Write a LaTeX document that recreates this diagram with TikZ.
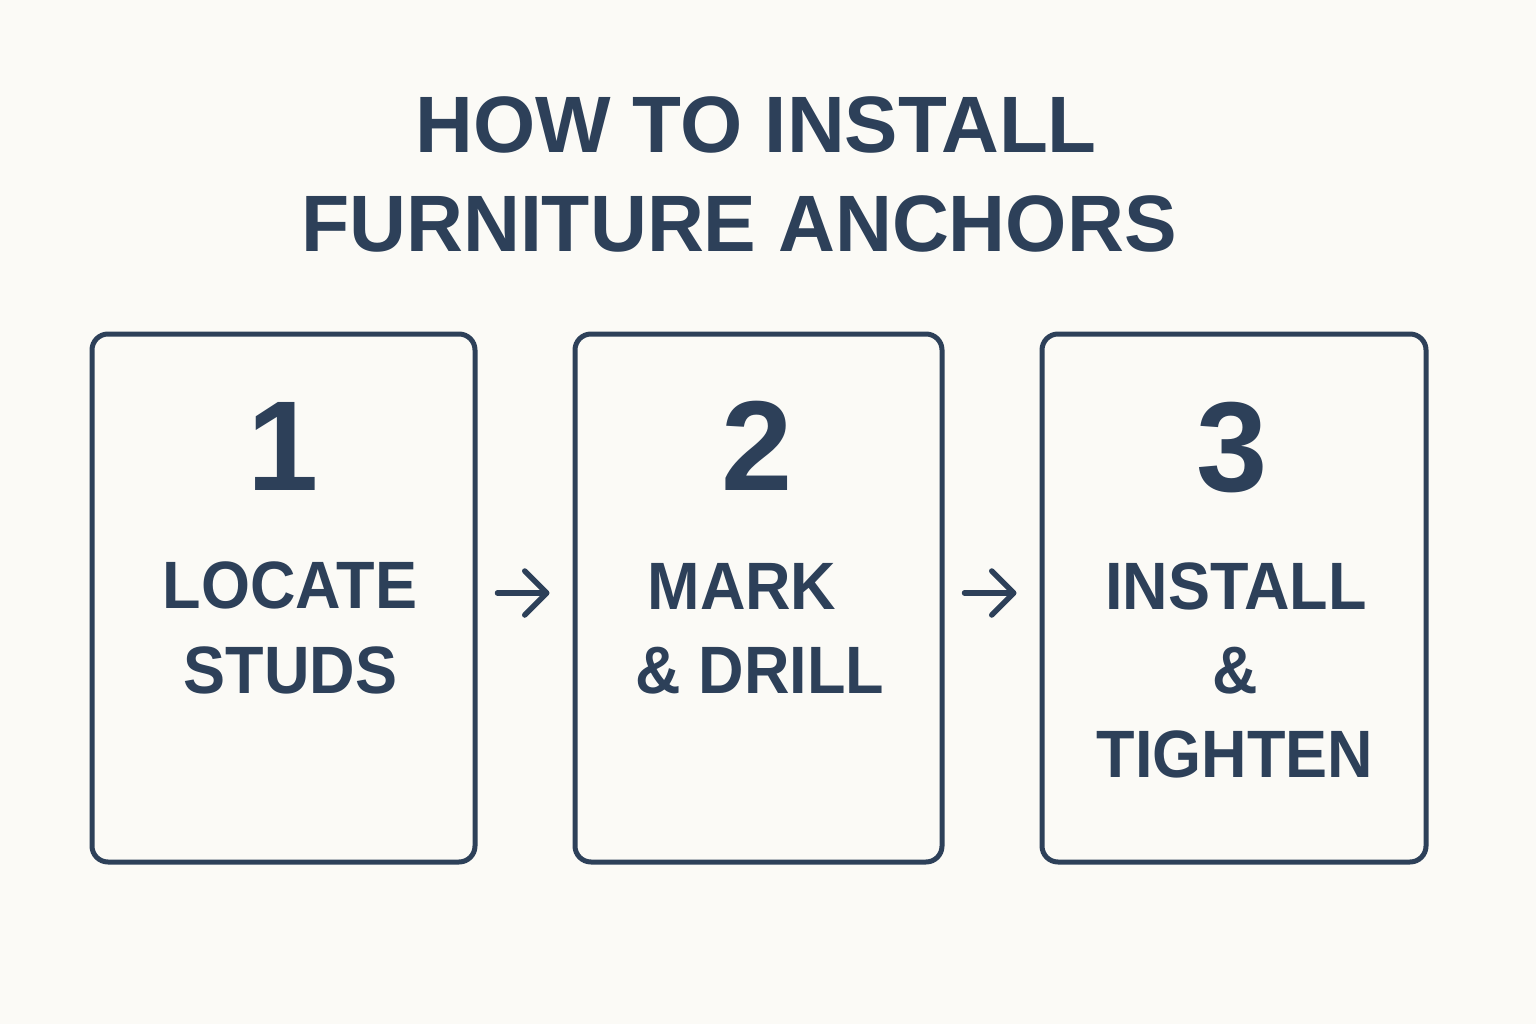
\documentclass[tikz,border=0pt]{standalone}
\usepackage{fontspec}
\setmainfont{Liberation Sans}
\newfontfamily\lblfont{Liberation Sans}[FakeStretch=0.94]
\newfontfamily\ttlfont{Liberation Sans}[FakeStretch=0.985]
\usetikzlibrary{arrows.meta}
\definecolor{ink}{HTML}{2D4059}
\definecolor{bg}{HTML}{FBFAF6}
\tikzset{
  stepbox/.style={draw=ink, line width=5pt, rounded corners=16pt, minimum height=528pt, inner sep=0pt},
  titletext/.style={anchor=base, inner sep=0pt, text=ink, font=\fontsize{80}{90}\selectfont\bfseries},
  numtext/.style={anchor=base, inner sep=0pt, text=ink, font=\fontsize{128}{140}\selectfont\bfseries},
  lbltext/.style={anchor=base, inner sep=0pt, text=ink, font=\lblfont\fontsize{67}{80}\selectfont\bfseries},
  flowarrow/.style={draw=ink, line width=5.5pt, line cap=round, -{Straight Barb[length=22pt,width=44pt,round]}}
}
\begin{document}
\begin{tikzpicture}[x=1pt,y=-1pt]
\fill[bg] (0,0) rectangle (1536,1024);
\useasboundingbox (0,0) rectangle (1536,1024);

\node[titletext] (t1) at (756,153) {HOW TO INSTALL};
\node[titletext, font=\ttlfont\fontsize{80}{90}\selectfont\bfseries] (t2) at (739,252) {FURNITURE ANCHORS};

\node[stepbox, minimum width=383pt] (b1) at (283.5,598) {};
\node[stepbox, minimum width=367pt] (b2) at (758.5,598) {};
\node[stepbox, minimum width=384pt] (b3) at (1234,598) {};

\node[numtext] (n1) at (283,490) {1};
\node[numtext] (n2) at (757,490) {2};
\node[numtext] (n3) at (1232,491) {3};

\node[lbltext] (l1a) at (290,608) {LOCATE};
\node[lbltext] (l1b) at (290.5,693) {STUDS};
\node[lbltext] (l2a) at (742,609) {MARK};
\node[lbltext] (l2b) at (760,693) {\& DRILL};
\node[lbltext] (l3a) at (1236,609) {INSTALL};
\node[lbltext] (l3b) at (1235,693) {\&};
\node[lbltext] (l3c) at (1235,777) {TIGHTEN};

\coordinate (a1s) at ([yshift=5pt]b1.east);
\coordinate (a1e) at ([yshift=5pt]b2.west);
\coordinate (a2s) at ([yshift=5pt]b2.east);
\coordinate (a2e) at ([yshift=5pt]b3.west);
\draw[flowarrow, shorten <=20pt, shorten >=23pt] (a1s) -- (a1e);
\draw[flowarrow, shorten <=20pt, shorten >=23pt] (a2s) -- (a2e);
\end{tikzpicture}
\end{document}
